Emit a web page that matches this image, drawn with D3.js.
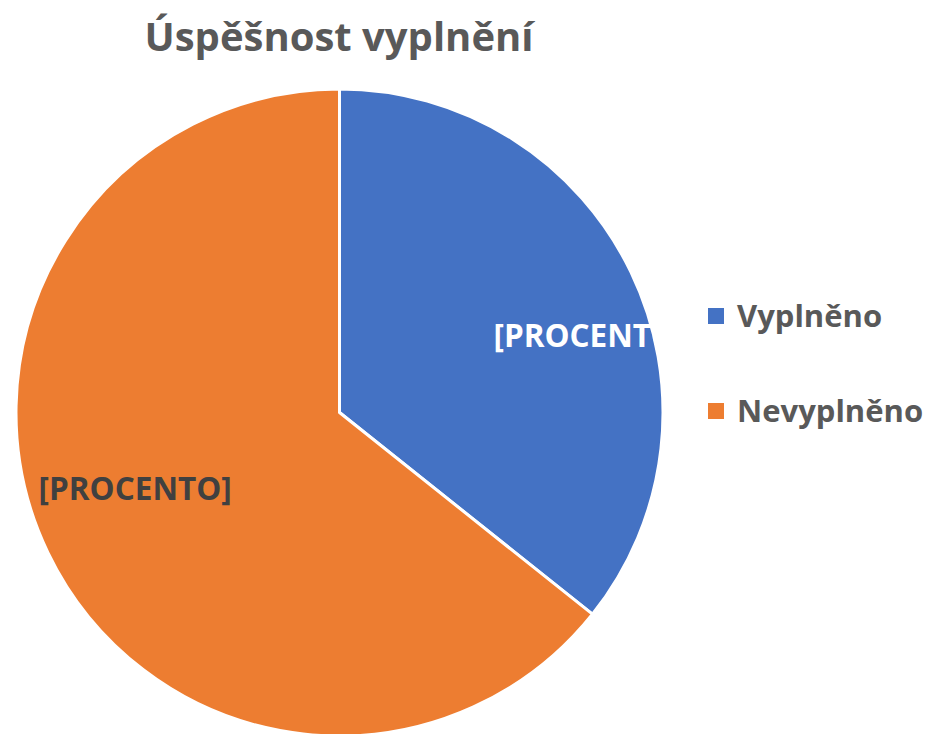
<!DOCTYPE html>
<html>
<head>
<meta charset="utf-8">
<script src="https://cdn.jsdelivr.net/npm/d3@7"></script>
<style>
  body { margin: 0; background: #fff; }
  text { font-family: "Open Sans", Lato, sans-serif; font-weight: bold; }
</style>
</head>
<body>
<div id="chart"></div>
<script>
// data
var categories = ['Vyplněno', 'Nevyplněno'];
var values = [25, 45];
var labels = ['[PROCENTO]', '[PROCENTO]'];
var title = 'Úspěšnost vyplnění';

var width = 930, height = 734;
var colors = d3.scaleOrdinal().domain(categories).range(['#4472C4', '#ED7D31']);
var labelColors = ['#FFFFFF', '#404040'];

var cx = 339.5, cy = 412.5, radius = 323.5;

var svg = d3.select('#chart')
    .append('svg')
    .attr('width', width)
    .attr('height', height);

svg.append('text')
    .attr('x', 339)
    .attr('y', 51)
    .attr('text-anchor', 'middle')
    .attr('fill', '#595959')
    .attr('font-size', 40)
    .text(title);

var pie = d3.pie().sort(null).value(d => d);
var arcs = pie(values);
var arc = d3.arc().innerRadius(0).outerRadius(radius);

// clip labels to the pie disk, like the original
svg.append('clipPath')
    .attr('id', 'pieClip')
    .append('circle')
    .attr('cx', cx)
    .attr('cy', cy)
    .attr('r', radius);

var g = svg.append('g').attr('transform', 'translate(' + cx + ',' + cy + ')');

g.selectAll('path')
    .data(arcs)
    .enter()
    .append('path')
    .attr('d', arc)
    .attr('fill', (d, i) => colors(categories[i]))
    .attr('stroke', '#fff')
    .attr('stroke-width', 3)
    .attr('stroke-linejoin', 'round');

// label placement: radius / angle nudges to follow Excel's "best fit"
var labelPlace = [{r: 262, a: 73}, {r: 218, a: 249.6}];

svg.append('g')
    .attr('clip-path', 'url(#pieClip)')
    .selectAll('text')
    .data(arcs)
    .enter()
    .append('text')
    .attr('x', (d, i) => cx + labelPlace[i].r * Math.sin(labelPlace[i].a * Math.PI / 180))
    .attr('y', (d, i) => cy - labelPlace[i].r * Math.cos(labelPlace[i].a * Math.PI / 180))
    .attr('dy', '0.35em')
    .attr('text-anchor', 'middle')
    .attr('font-size', 31.5)
    .attr('fill', (d, i) => labelColors[i])
    .text((d, i) => labels[i]);

// legend
var legend = svg.append('g');
var legendY = d3.scalePoint().domain(categories).range([316, 411]);

legend.selectAll('rect')
    .data(categories)
    .enter()
    .append('rect')
    .attr('x', 708)
    .attr('y', d => legendY(d) - 8)
    .attr('width', 16)
    .attr('height', 16)
    .attr('fill', d => colors(d));

legend.selectAll('text')
    .data(categories)
    .enter()
    .append('text')
    .attr('x', 737)
    .attr('y', d => legendY(d))
    .attr('dy', '0.35em')
    .attr('font-size', 31)
    .attr('fill', '#595959')
    .text(d => d);
</script>
</body>
</html>
